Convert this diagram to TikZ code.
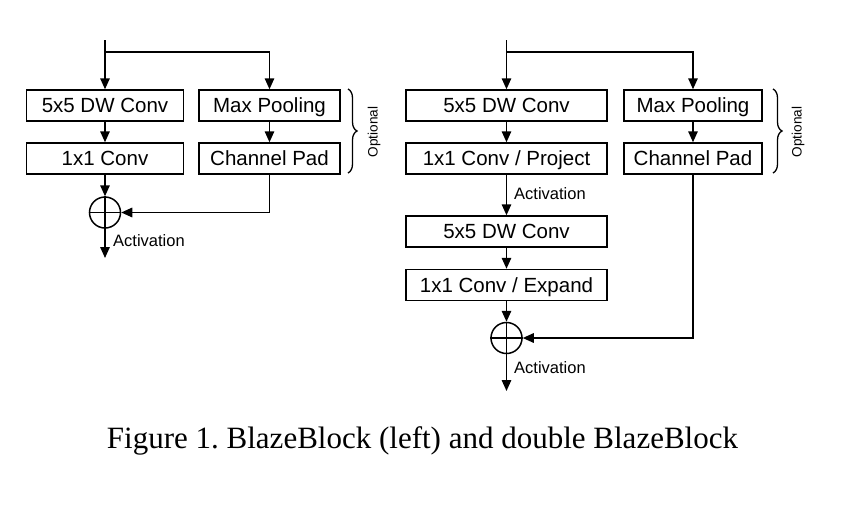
\documentclass[tikz,border=0pt]{standalone}
\usepackage{fontspec}
\setmainfont{Liberation Sans}
\newfontfamily\capfont{Liberation Serif}
\usetikzlibrary{arrows.meta,decorations.pathreplacing}
\begin{document}
\begin{tikzpicture}[x=1pt,y=-1pt,
 blk/.style={draw,line width=1.5pt,minimum height=31pt,inner sep=0pt,text height=15pt,text depth=0.5pt,font=\fontsize{20.5}{23}\selectfont},
 conn/.style={line width=1.5pt},
 arr/.style={conn,-{Triangle[length=11pt,width=9.5pt]}},
 sumnode/.style={circle,draw,line width=1.5pt,minimum size=31pt,inner sep=0pt},
 lbl/.style={font=\fontsize{16.5}{18}\selectfont,anchor=west,inner sep=0pt},
 opt/.style={font=\fontsize{13.6}{15}\selectfont,rotate=90,inner sep=0pt},
 brc/.style={decorate,decoration={brace,amplitude=9pt,aspect=0.5},line width=1.3pt}]
\useasboundingbox (0,0) rectangle (865,507);
% ---------- left block ----------
\node[blk,minimum width=157pt] (la) at (105,105.5) {5x5 DW Conv};
\node[blk,minimum width=157pt] (lb) at (105,158.5) {1x1 Conv};
\node[blk,minimum width=141pt] (lc) at (269.5,105.5) {Max Pooling};
\node[blk,minimum width=141pt] (ld) at (269.5,158.5) {Channel Pad};
\node[sumnode] (ls) at (105,212.5) {};
\draw[conn] (ls.north)--(ls.south) (ls.west)--(ls.east);
\coordinate (lin) at (105,40);
\coordinate (lj) at (105,52);
\coordinate (lout) at (105,258);
\draw[arr] (lin) -- (la.north);
\draw[arr] (lj) -| (lc.north);
\draw[arr] (la) -- (lb);
\draw[arr] (lb) -- (ls);
\draw[arr] (lc) -- (ld);
\draw[arr] (ld.south) |- (ls.east);
\draw[arr] (ls) -- (lout);
\node[lbl] (lact) at (113,241) {Activation};
\coordinate (lbr1) at (348,89);
\coordinate (lbr2) at (348,173);
\draw[brc] (lbr1) -- (lbr2);
\node[opt] (lopt) at (374,132) {Optional};
% ---------- right block ----------
\node[blk,minimum width=201pt] (ra) at (506.5,105.5) {5x5 DW Conv};
\node[blk,minimum width=201pt] (rb) at (506.5,158.5) {1x1 Conv / Project};
\node[blk,minimum width=201pt] (re) at (506.5,231.5) {5x5 DW Conv};
\node[blk,minimum width=201pt] (rf) at (506.5,285) {1x1 Conv / Expand};
\node[blk,minimum width=138pt] (rc) at (693,105.5) {Max Pooling};
\node[blk,minimum width=138pt] (rd) at (693,158.5) {Channel Pad};
\node[sumnode] (rs) at (506.5,338) {};
\draw[conn] (rs.north)--(rs.south) (rs.west)--(rs.east);
\coordinate (rin) at (506.5,40);
\coordinate (rj) at (506.5,52);
\coordinate (rout) at (506.5,391);
\draw[arr] (rin) -- (ra.north);
\draw[arr] (rj) -| (rc.north);
\draw[arr] (ra) -- (rb);
\draw[arr] (rb) -- (re);
\draw[arr] (re) -- (rf);
\draw[arr] (rf) -- (rs);
\draw[arr] (rc) -- (rd);
\draw[arr] (rd.south) |- (rs.east);
\draw[arr] (rs) -- (rout);
\node[lbl] (ract1) at (514,194) {Activation};
\node[lbl] (ract2) at (514,368) {Activation};
\coordinate (rbr1) at (773,89);
\coordinate (rbr2) at (773,173);
\draw[brc] (rbr1) -- (rbr2);
\node[opt] (ropt) at (798,132) {Optional};
% ---------- caption ----------
\node[font=\capfont\fontsize{31}{35}\selectfont,inner sep=0pt] (cap) at (422.5,441) {Figure 1.\ BlazeBlock (left) and double BlazeBlock};
\end{tikzpicture}
\end{document}
